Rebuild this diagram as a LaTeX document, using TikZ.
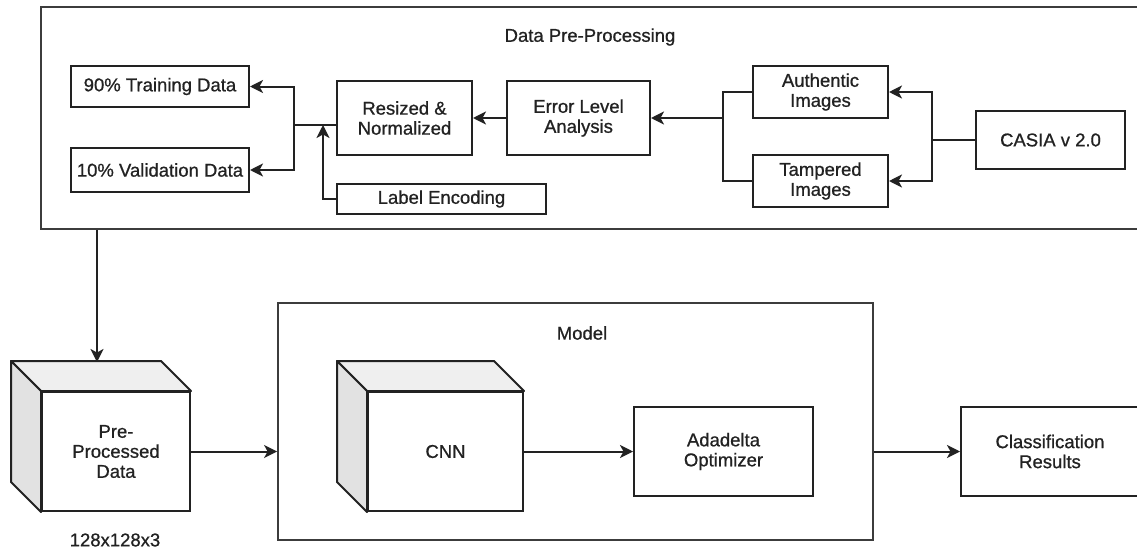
\documentclass[tikz,border=0pt]{standalone}
\usepackage{fontspec}
\setmainfont{Liberation Sans}
\newfontfamily\labelfont{Liberation Sans}[FakeBold=0.8]
\usetikzlibrary{arrows.meta,calc}
\definecolor{ink}{HTML}{222222}
\definecolor{frame}{HTML}{3C3C3C}
\definecolor{topface}{HTML}{EFEFEF}
\definecolor{sideface}{HTML}{E2E2E2}
\tikzset{
  every node/.style={text=ink, font=\labelfont\fontsize{18.5}{20}\selectfont},
  stepbox/.style={draw=ink, line width=2pt, fill=white, align=center, inner sep=0pt},
  container/.style={draw=frame, line width=1.8pt},
  link/.style={draw=ink, line width=2pt},
  arr/.style={link, -{Stealth[length=13pt,width=13pt,inset=3.5pt]}},
  cubefront/.style={stepbox},
}
% draws the top and left faces of a box seen in perspective
\newcommand{\cubefaces}[2]{%
  \filldraw[fill=topface, draw=ink, line width=2pt, line join=round]
    (#1.north west) -- ++(-#2,-#2) -- ($(#1.north east)+(-#2,-#2)$) -- (#1.north east) -- cycle;
  \filldraw[fill=sideface, draw=ink, line width=2pt, line join=round]
    (#1.north west) -- ++(-#2,-#2) -- ($(#1.south west)+(-#2,-#2)$) -- (#1.south west) -- cycle;
}
\begin{document}
\begin{tikzpicture}[x=1pt,y=-1pt]
\useasboundingbox (0,0) rectangle (1137,554);
\clip (0,0) rectangle (1137,554);
\fill[white] (0,0) rectangle (1137,554);

% ---- Data pre-processing stage ----
\node[container, minimum width=1099pt, minimum height=222pt, inner sep=0pt] (prep) at (590.5,118) {};
\node (preptitle) at (590,37) {Data Pre-Processing};

\node[stepbox, minimum width=178pt, minimum height=41pt] (train) at (160,86.5) {90\% Training Data};
\node[stepbox, minimum width=178pt, minimum height=44pt] (valid) at (160,170) {10\% Validation Data};
\node[stepbox, minimum width=135pt, minimum height=74pt] (resized) at (404.5,118) {Resized \&\\Normalized};
\node[stepbox, minimum width=209pt, minimum height=30pt] (label) at (441.5,199) {Label Encoding};
\node[stepbox, minimum width=143pt, minimum height=74pt] (ela) at (578.5,118) {Error Level\\Analysis};
\node[stepbox, minimum width=135pt, minimum height=52pt] (auth) at (820.5,92) {Authentic\\Images};
\node[stepbox, minimum width=135pt, minimum height=52pt] (tamp) at (820.5,181) {Tampered\\Images};
\node[stepbox, minimum width=149pt, minimum height=58pt] (casia) at (1050.5,140) {CASIA v 2.0};

\coordinate (split) at (294,125);
\coordinate (merge) at (323,125);
\coordinate (joinL) at (723,118);
\coordinate (joinR) at (932,140);

% dataset split into the two image classes
\draw[link] (casia.west) -- (joinR);
\draw[arr] (joinR) |- (auth.east);
\draw[arr] (joinR) |- (tamp.east);
% both classes go through error level analysis
\draw[link] (auth.west) -| (joinL);
\draw[link] (tamp.west) -| (joinL);
\draw[arr] (joinL) -- (ela.east);
\draw[arr] (ela.west) -- (resized.east);
% normalised data split into training and validation sets
\draw[link] (resized.west |- split) -- (split);
\draw[arr] (split) |- (train.east);
\draw[arr] (split) |- (valid.east);
\draw[arr] (label.west) -| (merge);

% ---- Pre-processed data ----
\node[cubefront, minimum width=148pt, minimum height=119pt] (pre) at (116,451.5) {Pre-\\Processed\\Data};
\cubefaces{pre}{30}
\node (presize) at (115,540) {128x128x3};
\coordinate (preback) at (97,362);
\draw[arr] (preback |- prep.south) -- (preback);

% ---- Model stage ----
\node[container, minimum width=595pt, minimum height=237pt, inner sep=0pt] (model) at (575.5,421.5) {};
\node (modeltitle) at (582,333) {Model};
\node[cubefront, minimum width=155pt, minimum height=119pt] (cnn) at (445.5,451.5) {CNN};
\cubefaces{cnn}{30}
\node[stepbox, minimum width=179pt, minimum height=89pt] (ada) at (723.5,451.5) {Adadelta\\Optimizer};
\node[stepbox, minimum width=178pt, minimum height=89pt] (cls) at (1050,451.5) {Classification\\Results};

\draw[arr] (pre.east) -- (pre.east -| model.west);
\draw[arr] (cnn.east) -- (ada.west);
\draw[arr] (cls.west -| model.east) -- (cls.west);
\end{tikzpicture}
\end{document}
